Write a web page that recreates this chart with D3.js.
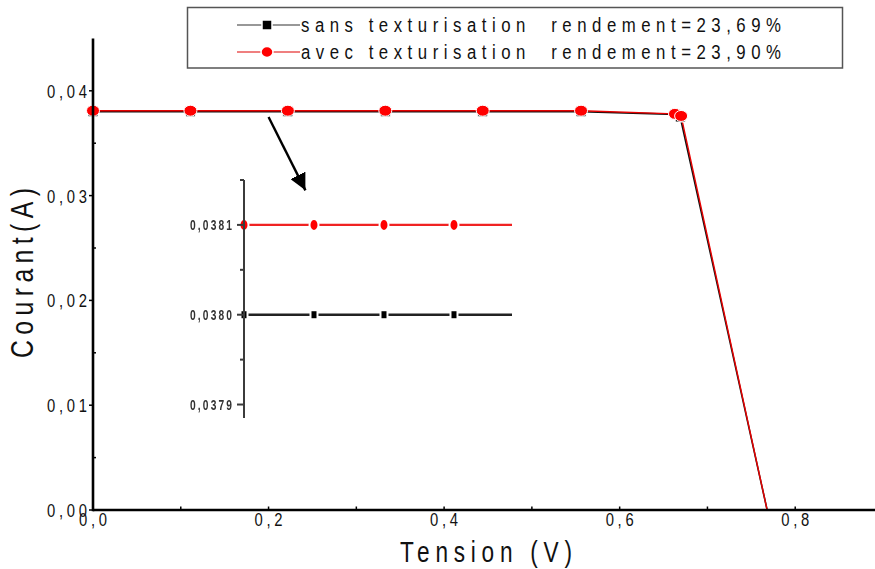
<!DOCTYPE html>
<html>
<head>
<meta charset="utf-8">
<script src="https://cdn.jsdelivr.net/npm/d3@7"></script>
<style>
  html, body { margin: 0; padding: 0; background: #fff; }
  svg { display: block; }
  text { font-family: 'Liberation Sans', Arial, sans-serif; white-space: pre; }
</style>
</head>
<body>
<svg id="chart" width="875" height="569"></svg>
<script>
// I-V curves of the cell, without and with texturisation
const vSans = [0, 0.111, 0.222, 0.333, 0.444, 0.556, 0.664, 0.669, 0.768];
const iSans = [0.0380, 0.0380, 0.0380, 0.0380, 0.0380, 0.0380, 0.03775, 0.0375, 0];
const vAvec = [0, 0.111, 0.222, 0.333, 0.444, 0.556, 0.663, 0.670, 0.768];
const iAvec = [0.0381, 0.0381, 0.0381, 0.0381, 0.0381, 0.0381, 0.0378, 0.0376, 0];

const legendLabels = ["sans texturisation  rendement=23,69%", "avec texturisation  rendement=23,90%"];
const xTicks = [0, 0.2, 0.4, 0.6, 0.8];
const xMinor = [0.1, 0.3, 0.5, 0.7];
const yTicks = [0, 0.01, 0.02, 0.03, 0.04];
const yMinor = [0.005, 0.015, 0.025, 0.035];
const insetTicks = [0.0379, 0.0380, 0.0381];
const insetMinor = [0.03795, 0.03805, 0.03815];
// arrow from the plateau down to the zoomed view, in data units [V, A]
const arrowFrom = [0.200, 0.0375];
const arrowTo = [0.242, 0.0305];

const fmt = d => d3.format(".2f")(d).replace(".", ",");
const fmtX = d => d3.format(".1f")(d).replace(".", ",");
const fmtInset = d => d3.format(".4f")(d).replace(".", ",");

const sans = vSans.map((v, i) => ({ v, c: iSans[i] }));
const avec = vAvec.map((v, i) => ({ v, c: iAvec[i] }));

const svg = d3.select("#chart");

// narrow, letter-spaced text: glyphs squeezed horizontally, total width fixed
function narrowText(parent, tx, ty, str, o) {
  const sx = o.sx || 0.8;
  const g = parent.append("g")
    .attr("transform", `translate(${tx},${ty})` + (o.rotate ? ` rotate(${o.rotate})` : "") + ` scale(${sx},1)`);
  const t = g.append("text").attr("x", 0).attr("y", 0)
    .attr("text-anchor", o.anchor || "start")
    .attr("font-size", o.size)
    .attr("fill", o.fill || "#111")
    .text(str);
  if (o.weight) t.attr("font-weight", o.weight);
  if (o.width) t.attr("textLength", o.width / sx).attr("lengthAdjust", "spacing");
  return t;
}

const x = d3.scaleLinear().domain([0, 0.9]).range([93, 883]);
const y = d3.scaleLinear().domain([0, 0.045]).range([510, 38.4]);

const line = d3.line().x(d => x(d.v)).y(d => y(d.c));

// ---- main curves
svg.append("path").datum(sans).attr("d", line)
  .attr("fill", "none").attr("stroke", "#111").attr("stroke-width", 1.6);
svg.append("path").datum(avec).attr("d", line)
  .attr("fill", "none").attr("stroke", "#e80000").attr("stroke-width", 1.4);

svg.append("g").selectAll("rect").data(sans.filter(d => d.c > 0)).join("rect")
  .attr("x", d => x(d.v) - 5).attr("y", d => y(d.c) - 5)
  .attr("width", 10).attr("height", 10)
  .attr("fill", "#000").attr("stroke", "#fff").attr("stroke-width", 1);
svg.append("g").selectAll("ellipse").data(avec.filter(d => d.c > 0)).join("ellipse")
  .attr("cx", d => x(d.v)).attr("cy", d => y(d.c))
  .attr("rx", 6.5).attr("ry", 5.5)
  .attr("fill", "#ff0000").attr("stroke", "#fff").attr("stroke-width", 1);

// ---- axes
const ax = svg.append("g");
ax.append("line").attr("x1", x(0)).attr("x2", 875).attr("y1", y(0)).attr("y2", y(0))
  .attr("stroke", "#000").attr("stroke-width", 2.6);
ax.append("line").attr("x1", x(0)).attr("x2", x(0)).attr("y1", y(0) + 1.3).attr("y2", y(0.045))
  .attr("stroke", "#000").attr("stroke-width", 2.6);

ax.selectAll(".xt").data(xTicks.concat(xMinor)).join("line")
  .attr("x1", d => x(d)).attr("x2", d => x(d)).attr("y1", y(0)).attr("y2", y(0) - 3.5)
  .attr("stroke", "#000").attr("stroke-width", 1.5);
ax.selectAll(".yt").data(yTicks).join("line")
  .attr("x1", x(0) - 4).attr("x2", x(0)).attr("y1", d => y(d)).attr("y2", d => y(d))
  .attr("stroke", "#000").attr("stroke-width", 1.5);
ax.selectAll(".ym").data(yMinor).join("line")
  .attr("x1", x(0)).attr("x2", x(0) + 3).attr("y1", d => y(d)).attr("y2", d => y(d))
  .attr("stroke", "#000").attr("stroke-width", 1.5);

xTicks.forEach(d => narrowText(ax, x(d), 525.5, fmtX(d), { size: 19, anchor: "middle", width: 28, sx: 0.78 }));
yTicks.forEach(d => narrowText(ax, 87, y(d) + 7, fmt(d), { size: 19, anchor: "end", width: 40, sx: 0.78 }));

narrowText(svg, 486, 562, "Tension (V)", { size: 29, anchor: "middle", width: 172, sx: 0.78 });
narrowText(svg, 33, 273, "Courant(A)", { size: 31, anchor: "middle", width: 170, sx: 0.8, rotate: -90 });

// ---- arrow
const defs = svg.append("defs");
defs.append("marker").attr("id", "head")
  .attr("viewBox", "0 0 10 10").attr("refX", 10).attr("refY", 5)
  .attr("markerWidth", 7).attr("markerHeight", 7).attr("markerUnits", "strokeWidth")
  .attr("orient", "auto")
  .append("path").attr("d", "M0,0 L10,5 L0,10 Z").attr("fill", "#000");
svg.append("line")
  .attr("x1", x(arrowFrom[0])).attr("y1", y(arrowFrom[1]))
  .attr("x2", x(arrowTo[0])).attr("y2", y(arrowTo[1]))
  .attr("stroke", "#000").attr("stroke-width", 2.4).attr("marker-end", "url(#head)");

// ---- inset: zoom on the plateau
defs.append("filter").attr("id", "soft")
  .append("feGaussianBlur").attr("stdDeviation", 0.45);
defs.append("clipPath").attr("id", "insetClip")
  .append("rect").attr("x", 240).attr("y", 170).attr("width", 272).attr("height", 260);

const xi = d3.scaleLinear().domain([0, 0.425]).range([244, 512]);
const yi = d3.scaleLinear().domain([0.037885, 0.03815]).range([418, 180]);
const lineI = d3.line().x(d => xi(d.v)).y(d => yi(d.c));

const inset = svg.append("g").attr("filter", "url(#soft)");
const plot = inset.append("g").attr("clip-path", "url(#insetClip)");
plot.append("path").datum(sans).attr("d", lineI)
  .attr("fill", "none").attr("stroke", "#222").attr("stroke-width", 2.4);
plot.append("path").datum(avec).attr("d", lineI)
  .attr("fill", "none").attr("stroke", "#f02020").attr("stroke-width", 2.4);
plot.selectAll(".sq").data(sans.filter(d => d.c > 0)).join("rect")
  .attr("x", d => xi(d.v) - 3.5).attr("y", d => yi(d.c) - 4.5)
  .attr("width", 7).attr("height", 9)
  .attr("fill", "#000").attr("stroke", "#fff").attr("stroke-width", 2);
plot.selectAll(".ci").data(avec.filter(d => d.c > 0)).join("ellipse")
  .attr("cx", d => xi(d.v)).attr("cy", d => yi(d.c))
  .attr("rx", 4.5).attr("ry", 6)
  .attr("fill", "#f00").attr("stroke", "#fff").attr("stroke-width", 2);

inset.append("line").attr("x1", 244).attr("x2", 244).attr("y1", 180).attr("y2", 418)
  .attr("stroke", "#3a3a3a").attr("stroke-width", 2);
inset.selectAll(".it").data(insetTicks).join("line")
  .attr("x1", 237).attr("x2", 244).attr("y1", d => yi(d)).attr("y2", d => yi(d))
  .attr("stroke", "#3a3a3a").attr("stroke-width", 2);
inset.selectAll(".im").data(insetMinor).join("line")
  .attr("x1", 240).attr("x2", 244).attr("y1", d => yi(d)).attr("y2", d => yi(d))
  .attr("stroke", "#3a3a3a").attr("stroke-width", 2);
insetTicks.forEach(d => narrowText(inset, 232, yi(d) + 5, fmtInset(d),
  { size: 15.5, anchor: "end", width: 42, sx: 0.66, weight: "bold", fill: "#333" }));

// ---- legend
const lg = svg.append("g");
lg.append("rect").attr("x", 187.5).attr("y", 7.5).attr("width", 655).attr("height", 60.5)
  .attr("fill", "#fff").attr("stroke", "#555").attr("stroke-width", 1.5);
const rows = [25, 52];
legendLabels.forEach((lab, i) => {
  const ry = rows[i];
  lg.append("line").attr("x1", 237).attr("x2", 300).attr("y1", ry).attr("y2", ry)
    .attr("stroke", i === 0 ? "#333" : "#e00000").attr("stroke-width", 1.2);
  if (i === 0) {
    lg.append("rect").attr("x", 262).attr("y", ry - 5).attr("width", 10).attr("height", 10)
      .attr("fill", "#000").attr("stroke", "#fff").attr("stroke-width", 1.5);
  } else {
    lg.append("ellipse").attr("cx", 267).attr("cy", ry).attr("rx", 6).attr("ry", 5.5)
      .attr("fill", "#ff0000").attr("stroke", "#fff").attr("stroke-width", 1.5);
  }
  narrowText(lg, 301, ry + 7, lab, { size: 21, width: 480, sx: 0.8 });
});
</script>
</body>
</html>
